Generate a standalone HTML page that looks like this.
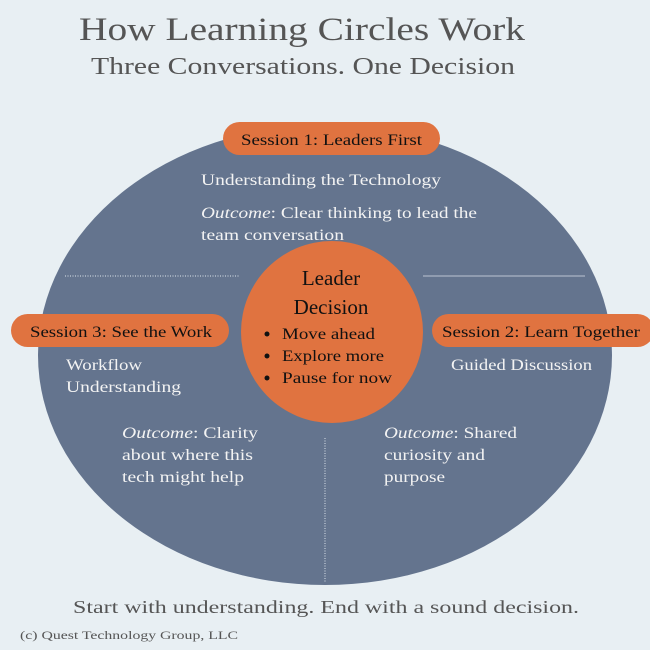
<!DOCTYPE html>
<html><head><meta charset="utf-8"><style>
html,body{margin:0;padding:0;background:#e8eff3;}
svg{display:block;}
text{font-family:"Liberation Serif","DejaVu Serif",serif;}
</style></head><body>
<svg width="650" height="650" viewBox="0 0 650 650" xmlns="http://www.w3.org/2000/svg">
<rect width="650" height="650" fill="#e8eff3"/>
<text x="79" y="40" font-size="33" fill="#555" textLength="446" lengthAdjust="spacingAndGlyphs">How Learning Circles Work</text>
<text x="91" y="74" font-size="24" fill="#555" textLength="424" lengthAdjust="spacingAndGlyphs">Three Conversations. One Decision</text>
<ellipse cx="325" cy="355" rx="287" ry="230" fill="#64748e"/>
<line x1="65" y1="276" x2="240" y2="276" stroke="#c8d0dc" stroke-width="1.2" stroke-dasharray="1 1.5"/>
<line x1="423" y1="276" x2="585" y2="276" stroke="#aab4c4" stroke-width="1.2"/>
<line x1="325" y1="438" x2="325" y2="582" stroke="#c8d0dc" stroke-width="1.2" stroke-dasharray="1 1.5"/>
<rect x="223" y="122" width="217" height="33" rx="16.5" fill="#e07340"/>
<text x="241" y="145" font-size="16" fill="#111" textLength="181" lengthAdjust="spacingAndGlyphs">Session 1: Leaders First</text>
<rect x="11" y="314" width="218" height="33" rx="16.5" fill="#e07340"/>
<text x="30" y="337" font-size="16" fill="#111" textLength="182" lengthAdjust="spacingAndGlyphs">Session 3: See the Work</text>
<rect x="432" y="314" width="222" height="33" rx="16.5" fill="#e07340"/>
<text x="442" y="337" font-size="16" fill="#111" textLength="198" lengthAdjust="spacingAndGlyphs">Session 2: Learn Together</text>
<g fill="#f3f3f3" font-size="16">
<text x="201" y="185" textLength="240" lengthAdjust="spacingAndGlyphs">Understanding the Technology</text>
<text x="201" y="218" textLength="276" lengthAdjust="spacingAndGlyphs"><tspan font-style="italic">Outcome</tspan>: Clear thinking to lead the</text>
<text x="201" y="240" textLength="143" lengthAdjust="spacingAndGlyphs">team conversation</text>
<text x="451" y="370" textLength="141" lengthAdjust="spacingAndGlyphs">Guided Discussion</text>
<text x="384" y="438" textLength="133" lengthAdjust="spacingAndGlyphs"><tspan font-style="italic">Outcome</tspan>: Shared</text>
<text x="384" y="460" textLength="101" lengthAdjust="spacingAndGlyphs">curiosity and</text>
<text x="384" y="482" textLength="61" lengthAdjust="spacingAndGlyphs">purpose</text>
<text x="66" y="370" textLength="76" lengthAdjust="spacingAndGlyphs">Workflow</text>
<text x="66" y="392" textLength="115" lengthAdjust="spacingAndGlyphs">Understanding</text>
<text x="122" y="438" textLength="136" lengthAdjust="spacingAndGlyphs"><tspan font-style="italic">Outcome</tspan>:  Clarity</text>
<text x="122" y="460" textLength="131" lengthAdjust="spacingAndGlyphs">about where this</text>
<text x="122" y="482" textLength="122" lengthAdjust="spacingAndGlyphs">tech might help</text>
</g>
<circle cx="332" cy="332" r="91" fill="#e07340"/>
<text x="331" y="285" font-size="21" fill="#111" text-anchor="middle">Leader</text>
<text x="331" y="314" font-size="21" fill="#111" text-anchor="middle">Decision</text>
<g font-size="16" fill="#111">
<circle cx="267" cy="334" r="2.5"/><text x="282" y="339" textLength="93" lengthAdjust="spacingAndGlyphs">Move ahead</text>
<circle cx="267" cy="356" r="2.5"/><text x="282" y="361" textLength="102" lengthAdjust="spacingAndGlyphs">Explore more</text>
<circle cx="267" cy="378" r="2.5"/><text x="282" y="383" textLength="110" lengthAdjust="spacingAndGlyphs">Pause for now</text>
</g>
<text x="73" y="613" font-size="18" fill="#555" textLength="506" lengthAdjust="spacingAndGlyphs">Start with understanding. End with a sound decision.</text>
<text x="20" y="639" font-size="12" fill="#555" textLength="218" lengthAdjust="spacingAndGlyphs">(c) Quest Technology Group, LLC</text>
</svg>
</body></html>
